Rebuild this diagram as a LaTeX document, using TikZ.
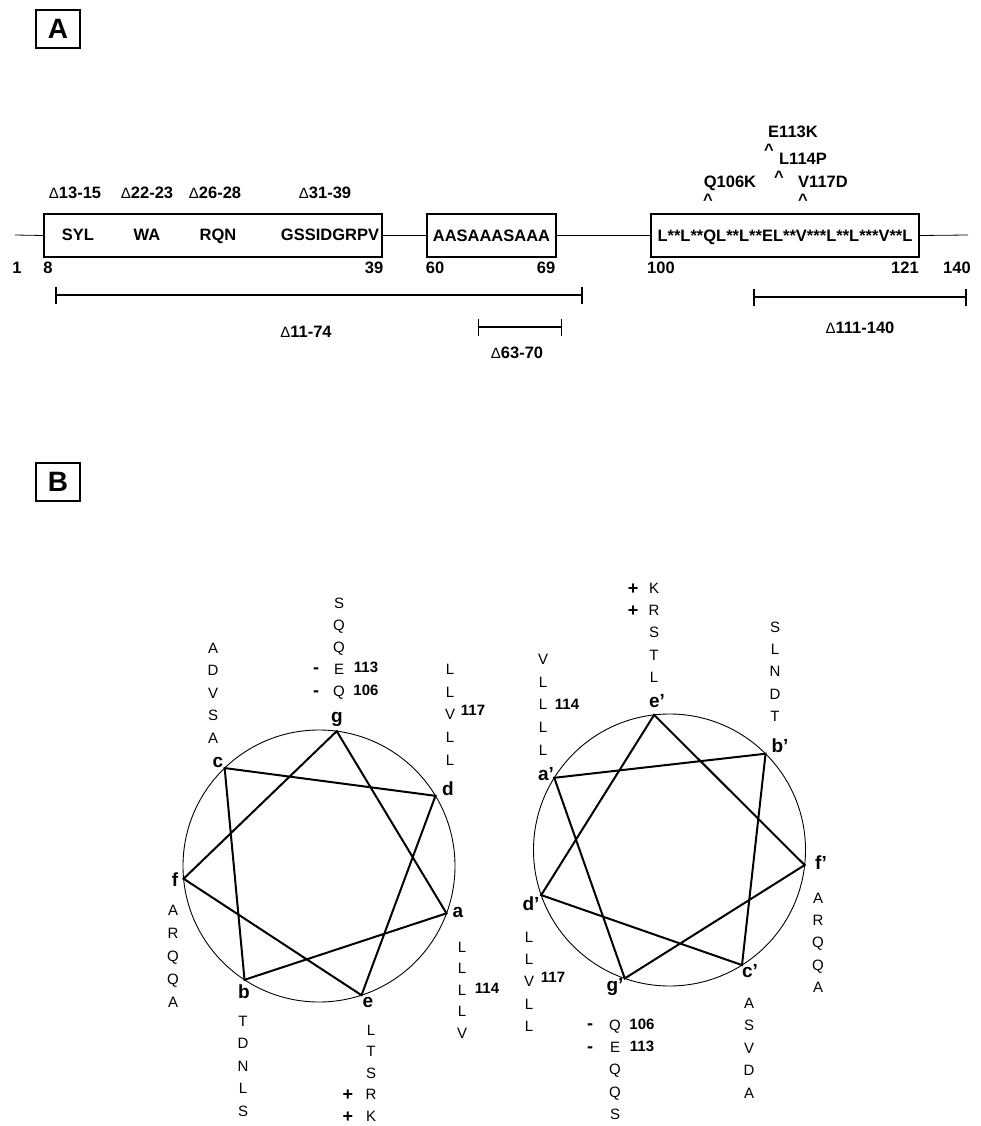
\documentclass[tikz,border=0pt]{standalone}
\usepackage{fontspec}
\setmainfont{Liberation Sans}
\usetikzlibrary{arrows.meta,calc}

\tikzset{
  lbl/.style={font=\fontsize{16.5}{18}\selectfont\bfseries, inner sep=0pt, text height=11.8pt, text depth=0pt},
  seg/.style={draw, line width=1.1pt, minimum height=43pt, inner sep=0pt,
    font=\fontsize{16.5}{18}\selectfont\bfseries, text height=11.8pt, text depth=0pt},
  panel/.style={draw, line width=1.6pt, minimum width=44pt, minimum height=38pt, inner sep=0pt,
    font=\fontsize{28}{28}\selectfont\bfseries},
  delbar/.style={line width=1.6pt, {Bar[width=17pt]}-{Bar[width=17pt]}},
  res/.style={font=\fontsize{15}{16}\selectfont, inner sep=0pt, text height=10.7pt, text depth=0pt},
  num/.style={font=\fontsize{15}{16}\selectfont\bfseries, inner sep=0pt, text height=10.7pt, text depth=0pt},
  hept/.style={font=\fontsize{19}{20}\selectfont\bfseries, inner sep=0pt, text height=13.6pt, text depth=0pt},
  chg/.style={font=\fontsize{18}{18}\selectfont\bfseries, inner sep=0pt, text height=12.9pt, text depth=0pt},
  helix/.style={line width=2pt},
  wheel/.style={line width=0.9pt},
}
\newcommand{\delsym}{{\mdseries\fontsize{15}{15}\selectfont Δ}}

\begin{document}
\begin{tikzpicture}[x=1pt, y=-1pt]
  \useasboundingbox (0,0) rectangle (980,1126);

  % panel A : domain map
  \node[panel] (pA) at (58,29) {A};
  \coordinate (nterm) at (15,235);
  \coordinate (cterm) at (968,235);
  \node[seg, minimum width=338pt] (box1) at (213,235.5) {};
  \node[seg, minimum width=129pt] (box2) at (491.5,235.5) {AASAAASAAA};
  \node[seg, minimum width=268pt] (box3) at (785,235.5) {L**L**QL**L**EL**V***L**L***V**L};
  \draw[line width=0.8pt] (nterm) -- (box1.west);
  \draw[line width=0.8pt] (box1.east) -- (box2.west);
  \draw[line width=0.8pt] (box2.east) -- (box3.west);
  \draw[line width=0.8pt] (box3.east) -- (cterm);
  % motifs in the first box
  \node[lbl] (syl) at (78,235) {SYL};
  \node[lbl] (wa) at (147,235) {WA};
  \node[lbl] (rqn) at (218,235) {RQN};
  \node[lbl] (gss) at (330,235) {GSSIDGRPV};
  % small deletions
  \node[lbl] (d1315) at (75,193) {\delsym13-15};
  \node[lbl] (d2223) at (147,193) {\delsym22-23};
  \node[lbl] (d2628) at (215,193) {\delsym26-28};
  \node[lbl] (d3139) at (325,193) {\delsym31-39};
  % residue numbers
  \node[lbl] (n1) at (17,268) {1};
  \node[lbl] (n8) at (48,268) {8};
  \node[lbl] (n39) at (374,268) {39};
  \node[lbl] (n60) at (435,268) {60};
  \node[lbl] (n69) at (546,268) {69};
  \node[lbl] (n100) at (661,268) {100};
  \node[lbl] (n121) at (905,268) {121};
  \node[lbl] (n140) at (957,268) {140};
  % point mutations
  \node[lbl] (m113) at (793,132) {E113K};
  \node[lbl] (c113) at (769,150) {\textasciicircum};
  \node[lbl] (m114) at (803,159) {L114P};
  \node[lbl] (c114) at (779,177) {\textasciicircum};
  \node[lbl] (m106) at (730,182) {Q106K};
  \node[lbl] (c106) at (708,200) {\textasciicircum};
  \node[lbl] (m117) at (823,182) {V117D};
  \node[lbl] (c117) at (803,200) {\textasciicircum};
  % large deletions
  \coordinate (l1174) at (55,295);
  \coordinate (r1174) at (583,295);
  \draw[delbar] (l1174) -- (r1174);
  \node[lbl] (t1174) at (306,332) {\delsym11-74};
  \coordinate (l6370) at (478,327);
  \coordinate (r6370) at (562,327);
  \draw[delbar, line width=1.3pt] (l6370) -- (r6370);
  \node[lbl] (t6370) at (517,353) {\delsym63-70};
  \coordinate (l111) at (753,297);
  \coordinate (r111) at (967,297);
  \draw[delbar] (l111) -- (r111);
  \node[lbl] (t111) at (860,328) {\delsym111-140};

  % panel B : helical wheels
  \node[panel] (pB) at (58,482) {B};

  % left wheel
  \coordinate (lw) at (319,866);
  \draw[wheel] (lw) circle (136);
  \foreach \p/\t in {g/-82.5, d/-31.07, a/20.36, e/71.79, b/123.21, f/174.64, c/226.07}
    \coordinate (h\p) at ($(lw)+(\t:136)$);
  \draw[helix] (ha) -- (hb) -- (hc) -- (hd) -- (he) -- (hf) -- (hg) -- cycle;
  \node[hept] (pg) at (337,716) {g};
  \node[hept] (pc) at (218,761) {c};
  \node[hept] (pd) at (448,789) {d};
  \node[hept] (pf) at (175,880) {f};
  \node[hept] (pa) at (458,911) {a};
  \node[hept] (pb) at (244,992) {b};
  \node[hept] (pe) at (368,1001) {e};
  \foreach \r [count=\i] in {A,D,V,S,A}
    \node[res] (rc\i) at (213,{648+22.5*(\i-1)}) {\r};
  \foreach \r [count=\i] in {S,Q,Q,E,Q}
    \node[res] (rg\i) at (339,{603+22*(\i-1)}) {\r};
  \foreach \r [count=\i] in {L,L,V,L,L}
    \node[res] (rd\i) at (450,{669+22.75*(\i-1)}) {\r};
  \foreach \r [count=\i] in {A,R,Q,Q,A}
    \node[res] (rf\i) at (173,{910+23*(\i-1)}) {\r};
  \foreach \r [count=\i] in {T,D,N,L,S}
    \node[res] (rb\i) at (243,{1021+22.5*(\i-1)}) {\r};
  \foreach \r [count=\i] in {L,T,S,R,K}
    \node[res] (re\i) at (371,{1030+21.5*(\i-1)}) {\r};
  \foreach \r [count=\i] in {L,L,L,L,V}
    \node[res] (ra\i) at (462,{947+21.5*(\i-1)}) {\r};
  \node[chg] (mg4) at (316,667) {-};
  \node[chg] (mg5) at (316,690) {-};
  \node[num] (ng4) at (366,667) {113};
  \node[num] (ng5) at (366,690) {106};
  \node[num] (nd3) at (473,710) {117};
  \node[num] (na3) at (487,988) {114};
  \node[chg] (pe4) at (348,1094.5) {+};
  \node[chg] (pe5) at (348,1116) {+};

  % right wheel
  \coordinate (rw) at (669.5,850);
  \draw[wheel] (rw) circle (136);
  \foreach \p/\t in {e/-96.5, b/-45.07, f/6.36, c/57.79, g/109.21, d/160.64, a/212.07}
    \coordinate (h\p p) at ($(rw)+(\t:136)$);
  \draw[helix] (hap) -- (hbp) -- (hcp) -- (hdp) -- (hep) -- (hfp) -- (hgp) -- cycle;
  \node[hept] (pep) at (657,701) {e’};
  \node[hept] (pbp) at (780,746) {b’};
  \node[hept] (pap) at (546,774) {a’};
  \node[hept] (pfp) at (821,863) {f’};
  \node[hept] (pcp) at (750,971) {c’};
  \node[hept] (pgp) at (615,985) {g’};
  \node[hept] (pdp) at (531,904) {d’};
  \foreach \r [count=\i] in {K,R,S,T,L}
    \node[res] (rep\i) at (654,{588+22.25*(\i-1)}) {\r};
  \foreach \r [count=\i] in {S,L,N,D,T}
    \node[res] (rbp\i) at (775,{627+22.25*(\i-1)}) {\r};
  \foreach \r [count=\i] in {V,L,L,L,L}
    \node[res] (rap\i) at (543,{659+22.75*(\i-1)}) {\r};
  \foreach \r [count=\i] in {A,R,Q,Q,A}
    \node[res] (rfp\i) at (818,{898+22.25*(\i-1)}) {\r};
  \foreach \r [count=\i] in {A,S,V,D,A}
    \node[res] (rcp\i) at (749,{1003+22.5*(\i-1)}) {\r};
  \foreach \r [count=\i] in {Q,E,Q,Q,S}
    \node[res] (rgp\i) at (615,{1025+22.25*(\i-1)}) {\r};
  \foreach \r [count=\i] in {L,L,V,L,L}
    \node[res] (rdp\i) at (529,{937+22.25*(\i-1)}) {\r};
  \node[chg] (pep1) at (633,588) {+};
  \node[chg] (pep2) at (633,610) {+};
  \node[num] (nap3) at (567,704) {114};
  \node[num] (ndp3) at (553,977) {117};
  \node[chg] (mgp1) at (590,1023) {-};
  \node[chg] (mgp2) at (590,1046) {-};
  \node[num] (ngp1) at (642,1024) {106};
  \node[num] (ngp2) at (642,1046) {113};
\end{tikzpicture}
\end{document}
